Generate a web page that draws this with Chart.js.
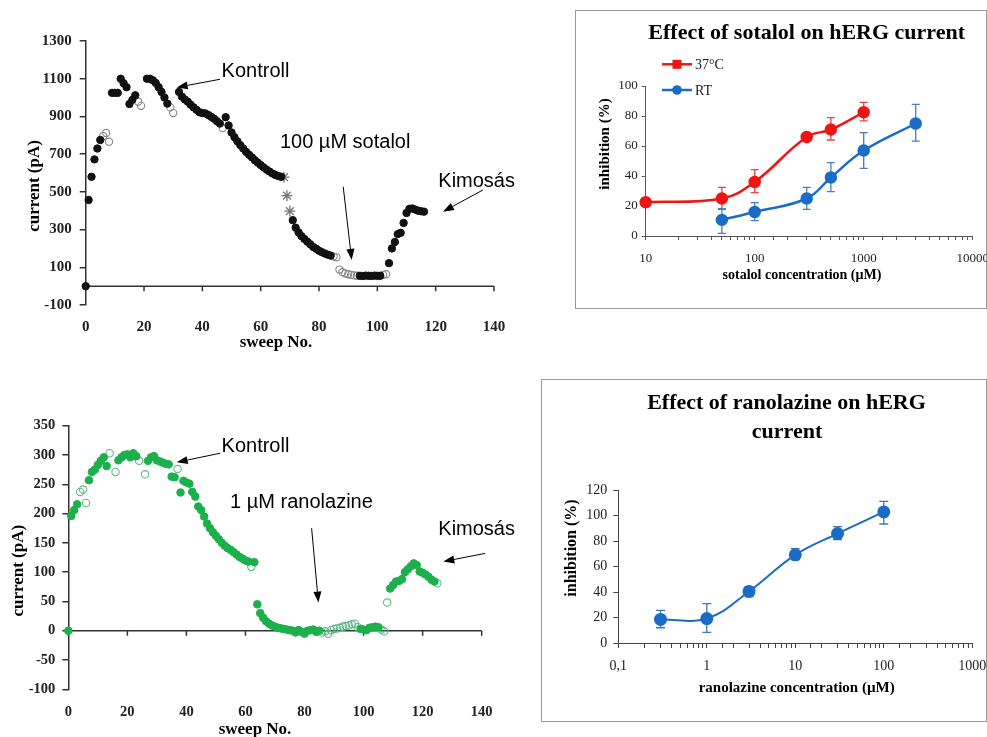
<!DOCTYPE html>
<html><head><meta charset="utf-8">
<script src="https://cdn.jsdelivr.net/npm/chart.js@4.4.1/dist/chart.umd.min.js"></script>
<style>
html,body{margin:0;padding:0;background:#fff;width:987px;height:737px;overflow:hidden;}
canvas{position:absolute;}
.box{position:absolute;border:1px solid #9a9a9a;box-sizing:border-box;}
</style></head><body>
<div class="box" style="left:575px;top:10px;width:412px;height:299px;"></div>
<div class="box" style="left:541px;top:379px;width:446px;height:343px;"></div>
<canvas id="c1" width="540" height="365" style="left:0;top:0"></canvas>
<canvas id="c2" width="412" height="300" style="left:575px;top:10px"></canvas>
<canvas id="c3" width="540" height="367" style="left:0;top:370px"></canvas>
<canvas id="c4" width="446" height="343" style="left:541px;top:379px"></canvas>
<script>
// ---------- DATA ----------
// Top-left: sotalol experiment, current (pA) per sweep
const sotalolFilledSweep   = [0,1,2,3,4,5,9,10,11,12,13,14,15,16,17,21,22,23,24,25,26,27,28,32,33,34,35,36,37,38,39,40,41,42,43,44,45,46,48,49,50,51,52,53,54,55,56,57,58,59,60,61,62,63,64,65,66,67,71,72,73,74,75,76,77,78,79,80,81,82,83,84,94,95,96,97,98,99,100,101,104,105,106,107,108,109,110,111,112,113,114,115,116];
const sotalolFilledCurrent = [0,457,580,672,730,775,1025,1025,1025,1100,1076,1055,966,988,1012,1100,1100,1092,1078,1055,1030,1000,968,1030,1005,990,978,962,948,935,922,918,916,908,898,888,875,862,896,852,815,790,768,748,730,712,697,683,668,655,642,630,618,608,598,590,584,580,350,310,285,265,250,236,222,208,198,188,180,173,167,162,55,54,56,55,54,56,55,55,122,200,234,276,283,335,388,410,412,406,400,397,395];
const sotalolOpenSweep   = [6,7,8,18,19,29,30,47,85,86,87,88,89,90,91,92,93,102,103];
const sotalolOpenCurrent = [796,812,766,978,956,948,918,838,157,153,88,74,67,63,60,57,55,60,63];
const sotalolStarSweep   = [68,69,70];
const sotalolStarCurrent = [578,480,398];

// Bottom-left: ranolazine experiment, current (pA) per sweep
const ranoFilledSweep   = [0,1,2,3,7,8,9,10,11,12,13,17,18,19,20,21,22,23,27,28,29,30,31,32,33,34,35,36,38,39,40,41,42,43,44,45,46,47,48,49,50,51,52,53,54,55,56,57,58,59,60,61,63,64,65,66,67,68,69,70,71,72,73,74,75,76,77,78,79,80,81,82,83,84,85,99,100,101,102,103,104,105,109,110,111,112,113,114,115,116,117,118,119,120,121,122,123,124];
const ranoFilledCurrent = [0,196,206,216,257,271,275,283,290,296,281,291,296,300,301,296,303,298,290,296,298,291,289,287,285,284,263,262,236,256,253,251,237,229,212,206,195,183,175,168,162,156,150,145,141,138,134,130,126,123,120,118,117,45,30,22,16,12,9,7,5,4,3,2,1,0,-3,1,-2,-5,0,1,2,-2,0,3,2,1,5,6,7,6,72,78,84,85,88,100,105,110,115,112,101,99,96,92,87,84];
const ranoOpenSweep   = [4,5,6,14,16,24,26,37,62,86,87,88,89,90,91,92,93,94,95,96,97,98,106,107,108,125];
const ranoOpenCurrent = [237,241,218,303,271,290,267,276,109,-3,-1,-5,1,3,4,5,7,8,9,11,12,6,2,-1,48,81];

// Top-right: sotalol concentration-response
const sotalolConc37   = [10,50,100,300,500,1000];
const inhib37         = [22.5,25,36,66,71,82.5];
const inhib37Top      = [23.5,32.4,44.2,67.5,78.9,89.1];
const inhib37Bottom   = [21.5,17.8,28.9,64.5,64,76.7];
const sotalolConcRT   = [50,100,300,500,1000,3000];
const inhibRT         = [10.7,16,25,39,57,75];
const inhibRTTop      = [18.2,22.2,32.4,48.9,68.9,87.8];
const inhibRTBottom   = [1.8,10.2,17.8,29.6,45.1,63.3];

// Bottom-right: ranolazine concentration-response
const ranolazineConc   = [0.3,1,3,10,30,100];
const ranolazineInhib  = [18.5,19.2,40.5,69.3,86,103];
const ranolazineTop    = [25.7,30.9,44.3,74.1,91.4,111.3];
const ranolazineBottom = [12,8.4,36.4,65.5,81.2,93.5];

// ---------- HELPERS ----------
const SERIF = '"Liberation Serif","Times New Roman",serif';
const SANS  = '"Liberation Sans",Arial,sans-serif';
function pairs(xs, ys){ return xs.map((x,i)=>({x:x, y:ys[i]})); }
function isDecade(v){ const l=Math.log10(v); return Math.abs(l-Math.round(l))<1e-6; }
const plain = (v)=>String(v);

const DECOR = {};
function drawArrow(ctx,x1,y1,x2,y2){
  const a=Math.atan2(y2-y1,x2-x1), L=11, W=4;
  const bx=x2-L*Math.cos(a), by=y2-L*Math.sin(a);
  ctx.beginPath(); ctx.moveTo(x1,y1); ctx.lineTo(bx,by); ctx.stroke();
  ctx.beginPath(); ctx.moveTo(x2,y2);
  ctx.lineTo(bx+W*Math.sin(a), by-W*Math.cos(a));
  ctx.lineTo(bx-W*Math.sin(a), by+W*Math.cos(a));
  ctx.closePath(); ctx.fill();
}
const decor = {
  id:'decor',
  beforeDatasetsDraw(chart){
    const d=DECOR[chart.canvas.id]; if(!d) return;
    const ctx=chart.ctx, xs=chart.scales.x, ys=chart.scales.y;
    if(d.zeroAxis){
      const y0=ys.getPixelForValue(0);
      ctx.save(); ctx.strokeStyle=d.zeroAxis.color; ctx.lineWidth=d.zeroAxis.width;
      ctx.beginPath(); ctx.moveTo(xs.left,y0); ctx.lineTo(xs.right,y0);
      xs.ticks.forEach(t=>{const x=xs.getPixelForValue(t.value); ctx.moveTo(x,y0); ctx.lineTo(x,y0+d.zeroAxis.tick);});
      ctx.stroke(); ctx.restore();
    }
    chart.data.datasets.forEach(ds=>{
      if(!ds.errTop) return;
      ctx.save(); ctx.strokeStyle=ds.errColor; ctx.lineWidth=1.3;
      const c=d.cap||4;
      ds.data.forEach((p,j)=>{
        const x=xs.getPixelForValue(p.x), t=ys.getPixelForValue(ds.errTop[j]), b=ys.getPixelForValue(ds.errBottom[j]);
        ctx.beginPath(); ctx.moveTo(x,t); ctx.lineTo(x,b);
        ctx.moveTo(x-c,t); ctx.lineTo(x+c,t); ctx.moveTo(x-c,b); ctx.lineTo(x+c,b); ctx.stroke();
      });
      ctx.restore();
    });
  },
  afterDraw(chart){
    const d=DECOR[chart.canvas.id]; if(!d) return;
    const ctx=chart.ctx, xs=chart.scales.x, ys=chart.scales.y;
    (d.arrows||[]).forEach(a=>{
      ctx.save(); ctx.strokeStyle='#000'; ctx.fillStyle='#000'; ctx.lineWidth=1;
      drawArrow(ctx, xs.getPixelForValue(a[0]), ys.getPixelForValue(a[1]), xs.getPixelForValue(a[2]), ys.getPixelForValue(a[3]));
      ctx.restore();
    });
    (d.legend||[]).forEach(l=>{
      ctx.save(); ctx.strokeStyle=l.color; ctx.fillStyle=l.color; ctx.lineWidth=2.5;
      ctx.beginPath(); ctx.moveTo(l.x1,l.y); ctx.lineTo(l.x2,l.y); ctx.stroke();
      const cx=(l.x1+l.x2)/2;
      if(l.marker==='rect'){ ctx.fillRect(cx-4.5,l.y-4.5,9,9); }
      else { ctx.beginPath(); ctx.arc(cx,l.y,4.8,0,Math.PI*2); ctx.fill(); }
      ctx.fillStyle='#222'; ctx.font=l.font; ctx.textAlign='left'; ctx.textBaseline='middle';
      ctx.fillText(l.text, l.x2+3, l.y+1);
      ctx.restore();
    });
    (d.texts||[]).forEach(t=>{
      let x=t.x, y=t.y;
      if(t.data){ x=xs.getPixelForValue(t.x); y=ys.getPixelForValue(t.y); }
      ctx.save(); ctx.font=t.font; ctx.fillStyle=t.color||'#000';
      ctx.textAlign=t.align||'center'; ctx.textBaseline='middle';
      ctx.translate(x,y); if(t.rot) ctx.rotate(t.rot);
      ctx.fillText(t.text,0,0); ctx.restore();
    });
  }
};
Chart.register(decor);

const base = { responsive:false, animation:false, events:[], plugins:{legend:{display:false}, title:{display:false}, tooltip:{enabled:false}} };

// ---------- TOP LEFT ----------
DECOR.c1 = {
  zeroAxis:{color:'#333', width:1.5, tick:5},
  arrows:[[46.05,1097,31.2,1054],[88.3,527,91.2,139],[136.2,510,122.5,395]],
  texts:[
    {text:'current (pA)', x:35, y:186, font:'bold 17px '+SERIF, rot:-Math.PI/2},
    {text:'sweep No.', x:276, y:343, font:'bold 17px '+SERIF},
    {text:'Kontroll', x:46.6, y:1137, data:true, align:'left', font:'20px '+SANS},
    {text:'100 \u00b5M sotalol', x:66.6, y:761, data:true, align:'left', font:'20px '+SANS},
    {text:'Kimos\u00e1s', x:120.9, y:554, data:true, align:'left', font:'20px '+SANS}
  ]
};
new Chart(document.getElementById('c1'), {
  type:'scatter',
  data:{datasets:[
    {data:pairs(sotalolFilledSweep,sotalolFilledCurrent), backgroundColor:'#111', borderColor:'#111', pointRadius:3.7, borderWidth:1, clip:false},
    {data:pairs(sotalolOpenSweep,sotalolOpenCurrent), backgroundColor:'rgba(255,255,255,0)', borderColor:'#888', pointRadius:3.6, borderWidth:1.1, clip:false},
    {data:pairs(sotalolStarSweep,sotalolStarCurrent), pointStyle:'star', backgroundColor:'#777', borderColor:'#777', pointRadius:5.5, borderWidth:1.3, clip:false}
  ]},
  options:Object.assign({}, base, {
    layout:{padding:{left:0, top:41, right:46, bottom:0}},
    scales:{
      x:{type:'linear', min:0, max:140, ticks:{stepSize:20, font:{family:SERIF,size:15,weight:'bold'}, color:'#222', padding:5, callback:plain},
         grid:{display:false}, border:{display:false},
         afterFit(s){ s.height=60; s.paddingLeft=0; s.paddingRight=0; }},
      y:{min:-100, max:1300, ticks:{stepSize:200, font:{family:SERIF,size:15,weight:'bold'}, color:'#222', padding:8, callback:plain},
         grid:{drawOnChartArea:false, tickLength:6, color:'#333', lineWidth:1.5},
         border:{display:true, color:'#333', width:1.5},
         afterFit(s){ s.width=85.7; s.paddingTop=0; s.paddingBottom=0; }}
    }
  })
});

// ---------- TOP RIGHT ----------
DECOR.c2 = {
  cap:4,
  legend:[
    {x1:87, x2:117, y:54.3, color:'#ee1515', marker:'rect', text:'37\u00b0C', font:'14px '+SERIF},
    {x1:87, x2:117, y:80, color:'#1b6cc6', marker:'circle', text:'RT', font:'14px '+SERIF}
  ],
  texts:[
    {text:'Effect of sotalol on hERG current', x:231.7, y:23, font:'bold 22px '+SERIF},
    {text:'inhibition (%)', x:30, y:134, font:'bold 15px '+SERIF, rot:-Math.PI/2},
    {text:'sotalol concentration (\u00b5M)', x:227, y:265, font:'bold 14px '+SERIF}
  ]
};
new Chart(document.getElementById('c2'), {
  type:'line',
  data:{datasets:[
    {data:pairs(sotalolConc37,inhib37), errTop:inhib37Top, errBottom:inhib37Bottom, errColor:'#e64646',
     borderColor:'#ee1515', backgroundColor:'#ee1515', pointBackgroundColor:'#ee1515', pointBorderColor:'#ee1515', borderWidth:2.5, pointRadius:5, tension:0.4, clip:false},
    {data:pairs(sotalolConcRT,inhibRT), errTop:inhibRTTop, errBottom:inhibRTBottom, errColor:'#4a7fb8',
     borderColor:'#1b6cc6', backgroundColor:'#1b6cc6', pointBackgroundColor:'#1b6cc6', pointBorderColor:'#1b6cc6', borderWidth:2.5, pointRadius:5, tension:0.4, clip:false}
  ]},
  options:Object.assign({}, base, {
    layout:{padding:{left:0, top:76, right:14.3, bottom:0}},
    scales:{
      x:{type:'logarithmic', min:10, max:10000,
         ticks:{autoSkip:false, maxRotation:0, font:{family:SERIF,size:13}, color:'#222', padding:11, callback:(v)=>isDecade(v)?String(v):''},
         grid:{drawOnChartArea:false, tickLength:4, color:'#555'}, border:{display:true, color:'#555', width:1},
         afterFit(s){ s.height=74; s.paddingLeft=0; s.paddingRight=0; }},
      y:{min:0, max:100, ticks:{stepSize:20, font:{family:SERIF,size:13}, color:'#222', padding:4},
         grid:{drawOnChartArea:false, tickLength:4, color:'#555'}, border:{display:true, color:'#555', width:1},
         afterFit(s){ s.width=70.7; s.paddingTop=0; s.paddingBottom=0; }}
    }
  })
});

// ---------- BOTTOM LEFT ----------
DECOR.c3 = {
  zeroAxis:{color:'#333', width:1.5, tick:5},
  arrows:[[51.4,303,36.7,287.5],[82.4,175,84.7,48],[141.1,132,127,118]],
  texts:[
    {text:'current (pA)', x:19, y:200.7, font:'bold 17px '+SERIF, rot:-Math.PI/2},
    {text:'sweep No.', x:255, y:360, font:'bold 17px '+SERIF},
    {text:'Kontroll', x:51.9, y:314, data:true, align:'left', font:'20px '+SANS},
    {text:'1 \u00b5M ranolazine', x:54.8, y:218.5, data:true, align:'left', font:'20px '+SANS},
    {text:'Kimos\u00e1s', x:125.3, y:172, data:true, align:'left', font:'20px '+SANS}
  ]
};
new Chart(document.getElementById('c3'), {
  type:'scatter',
  data:{datasets:[
    {data:pairs(ranoFilledSweep,ranoFilledCurrent), backgroundColor:'#1cb04c', borderColor:'#1cb04c', pointRadius:3.8, borderWidth:1, clip:false},
    {data:pairs(ranoOpenSweep,ranoOpenCurrent), backgroundColor:'rgba(255,255,255,0)', borderColor:'#5db883', pointRadius:3.7, borderWidth:1.1, clip:false}
  ]},
  options:Object.assign({}, base, {
    layout:{padding:{left:0, top:55.7, right:58.3, bottom:0}},
    scales:{
      x:{type:'linear', min:0, max:140, ticks:{stepSize:20, font:{family:SERIF,size:14.5,weight:'bold'}, color:'#222', padding:6, callback:plain},
         grid:{display:false}, border:{display:false},
         afterFit(s){ s.height=47.7; s.paddingLeft=0; s.paddingRight=0; }},
      y:{min:-100, max:350, ticks:{stepSize:50, font:{family:SERIF,size:14.5,weight:'bold'}, color:'#222', padding:7, callback:plain},
         grid:{drawOnChartArea:false, tickLength:6, color:'#333', lineWidth:1.5},
         border:{display:true, color:'#333', width:1.5},
         afterFit(s){ s.width=68.3; s.paddingTop=0; s.paddingBottom=0; }}
    }
  })
});

// ---------- BOTTOM RIGHT ----------
DECOR.c4 = {
  cap:4.5,
  texts:[
    {text:'Effect of ranolazine on hERG', x:245.5, y:24, font:'bold 22px '+SERIF},
    {text:'current', x:246, y:53, font:'bold 22px '+SERIF},
    {text:'inhibition (%)', x:31, y:169, font:'bold 16px '+SERIF, rot:-Math.PI/2},
    {text:'ranolazine concentration (\u00b5M)', x:255.7, y:309, font:'bold 15px '+SERIF}
  ]
};
new Chart(document.getElementById('c4'), {
  type:'line',
  data:{datasets:[
    {data:pairs(ranolazineConc,ranolazineInhib), errTop:ranolazineTop, errBottom:ranolazineBottom, errColor:'#3f78b5',
     borderColor:'#1b6cc6', backgroundColor:'#1b6cc6', pointBackgroundColor:'#1b6cc6', pointBorderColor:'#1b6cc6', borderWidth:2, pointRadius:5.5, tension:0.4, clip:false}
  ]},
  options:Object.assign({}, base, {
    layout:{padding:{left:0, top:111.3, right:14.7, bottom:0}},
    scales:{
      x:{type:'logarithmic', min:0.1, max:1000,
         ticks:{autoSkip:false, maxRotation:0, font:{family:SERIF,size:14}, color:'#222', padding:10,
                callback:(v)=>isDecade(v)?String(v).replace('.',','):''},
         grid:{drawOnChartArea:false, tickLength:5, color:'#444'}, border:{display:true, color:'#444', width:1},
         afterFit(s){ s.height=79; s.paddingLeft=0; s.paddingRight=0; }},
      y:{min:0, max:120, ticks:{stepSize:20, font:{family:SERIF,size:14}, color:'#222', padding:6},
         grid:{drawOnChartArea:false, tickLength:5, color:'#444'}, border:{display:true, color:'#444', width:1},
         afterFit(s){ s.width=77.3; s.paddingTop=0; s.paddingBottom=0; }}
    }
  })
});
</script>
</body></html>
